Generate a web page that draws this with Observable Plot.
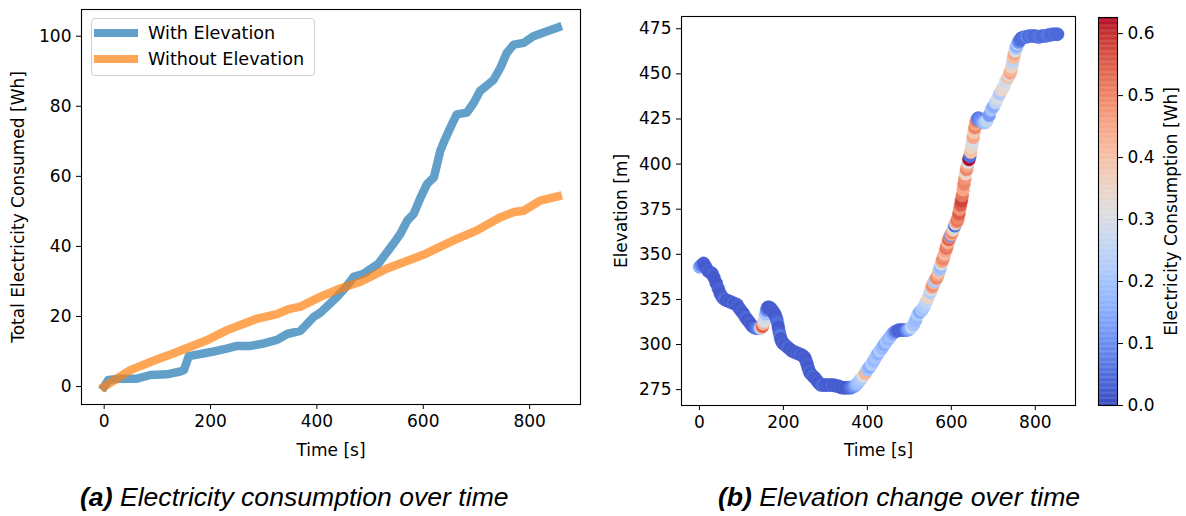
<!DOCTYPE html>
<html>
<head>
<meta charset="utf-8">
<script src="https://cdn.jsdelivr.net/npm/d3@7"></script>
<script src="https://cdn.jsdelivr.net/npm/@observablehq/plot@0.6"></script>
<style>
html, body { margin: 0; padding: 0; background: #fff; }
#root { position: relative; width: 1186px; height: 516px; overflow: hidden; font-family: "DejaVu Sans", sans-serif; color: #000; }
.panel { position: absolute; top: 0; }
.legend { position: absolute; left: 91px; top: 18px; width: 224px; height: 58px; border: 1px solid #d0d0d0; border-radius: 4px; background: rgba(255,255,255,0.8); box-sizing: border-box; }
.sw { position: absolute; left: 94px; width: 44px; height: 8.5px; }
.lt { position: absolute; left: 148px; font-size: 17.6px; line-height: 20px; white-space: nowrap; }
.cap { position: absolute; top: 482px; font-family: "Liberation Sans", Arial, sans-serif; font-style: italic; font-size: 26.6px; white-space: nowrap; }
.cap b { font-weight: bold; }
</style>
</head>
<body>
<div id="root"></div>
<script>
// ---------- Panel (a): cumulative electricity consumption ----------
const seriesNames = ["With Elevation", "Without Elevation"];
const withTime = [0,8,30,60,87,118,143,150,159,181,206,230,250,275,300,325,344,369,394,406,420,438,455,469,488,500,516,532,544,557,570,582,595,607,620,632,641,654,663,682,695,707,720,732,745,757,770,789,807,833,853];
const withWh   = [0,1.9,2.2,2.2,3.3,3.5,4.3,4.7,8.7,9.3,10,10.8,11.6,11.6,12.3,13.3,15,15.9,19.9,21,23,25.6,28.5,31.3,32.2,33.5,35.1,38.4,40.8,43.6,47.4,49.3,54,57.8,59.7,67.3,70.6,74.9,77.7,78.2,81,84.4,86,87.5,91,95.2,97.6,98.1,100,101.4,102.5];
const withoutTime = [0,49,100,131,143,194,231,260,288,325,347,369,406,444,482,532,600,657,700,745,770,789,820,853];
const withoutWh   = [0,4.7,7.8,9.5,10.2,13.3,16.1,17.8,19.4,20.7,22.1,22.8,25.6,28,29.9,33.7,37.6,41.7,44.5,48.3,49.8,50.2,53.1,54.3];
const seriesColors = ["#1f77b4", "#ff7f0e"];
const timeTicks = [0,200,400,600,800];
const whTicks = [0,20,40,60,80,100];

// ---------- Panel (b): elevation coloured by per-sample consumption ----------
const sampleTime = [
  0,5,10,15,20,25,30,35,40,45,50,55,60,65,70,75,80,85,90,95,100,105,110,115,120,125,130,135,140,145,
  148,150,152,154,156,158,160,162,164,166,168,170,172,174,176,178,180,182,184,186,188,190,192,194,196,198,200,
  205,210,215,220,225,230,235,240,245,250,
  253,256,259,262,265,
  270,275,280,285,290,295,
  300,305,310,315,320,325,330,335,340,345,
  350,355,360,365,370,375,380,385,390,395,
  400,405,410,415,420,425,430,435,440,445,
  450,455,460,465,470,475,480,485,490,495,
  500,505,510,515,520,525,530,535,540,545,550,
  552,554,556,558,560,562,564,566,568,570,572,574,576,578,580,582,584,586,588,590,
  592,594,596,598,600,602,604,606,608,610,612,614,616,618,620,622,624,626,628,630,
  632,634,636,638,640,642,644,646,648,650,652,654,656,658,660,662,664,666,
  670,675,680,685,690,695,700,705,710,715,720,725,730,735,
  738,740,742,744,746,748,750,752,754,756,758,760,762,764,766,768,770,
  775,780,785,790,795,800,805,810,815,820,825,830,835,840,845,850,853];
const elevation = [
  343,344,345,343,341,340,339.5,337,334,331,328,326,325,324.5,324,323.5,323,322.5,322,320,318.5,317,315,313.5,312,310.5,309.5,309,309,309,
  309.3,310,311.5,313,315,317,319,320.3,320.7,320.5,320.2,320,319.3,318.5,318,317.3,316.5,315.3,314,312,309.5,307,305,303,301.8,301,300.5,
  299.5,298.5,297.5,296.5,296,295.5,295,294.5,294,293,
  291.5,289.5,287,285,283.8,
  282.5,281.5,280,278.5,277.5,277.5,
  277.5,277.5,277.5,277.5,277.5,277,277,276.5,276,276,
  276,276,276,276.5,277,278,279.5,281,282.5,284,
  286,287.5,289,291,293,295,296.5,298,300,301.5,
  303,304.5,306,307,307.5,308,308,308,308,308,
  308.5,309.5,311,313.5,316.5,318,319,321,323.5,326,329,
  330.4,331.8,333,334,335,335.8,336.6,337.5,338.6,340,341.6,343.2,344.7,346.1,347.5,348.9,350.3,351.8,353.4,355,
  356.6,358.2,359.4,360.3,361,362.2,363.4,364.6,365.8,367,367.8,368.6,370,372.5,375,377.4,379.8,382.5,385.8,389,
  391.8,394.6,397,399,401,402.6,404.2,406.6,409.4,412,414.8,417.6,420.2,422.3,424,425,425.5,425.2,
  424,423,423,424,427,430,432,434,436.5,439,441,443,446,448,
  449.5,450.5,452,454,456.5,459,461,462.8,464.4,465.7,466.7,467.5,468.3,469,469.6,469.9,470,
  470.5,470.5,471,471,471,471,470.5,470.5,471,471,471,471.5,471.5,472,472,472,472];
const consumption = [
  0.15,0.08,0.03,0.02,0.03,0.02,0.03,0.02,0.02,0.03,0.02,0.03,0.05,0.02,0.03,0.02,0.04,0.02,0.03,0.02,0.03,0.02,0.04,0.02,0.03,0.02,0.03,0.05,0.08,0.2,
  0.35,0.55,0.42,0.3,0.28,0.2,0.1,0.05,0.03,0.02,0.03,0.02,0.03,0.02,0.04,0.02,0.03,0.02,0.03,0.05,0.02,0.03,0.06,0.02,0.03,0.02,0.03,
  0.02,0.04,0.02,0.03,0.02,0.03,0.02,0.04,0.02,0.03,
  0.02,0.03,0.02,0.04,0.02,
  0.04,0.02,0.03,0.02,0.03,0.05,
  0.02,0.03,0.02,0.04,0.02,0.03,0.02,0.03,0.02,0.03,
  0.02,0.03,0.05,0.08,0.12,0.18,0.2,0.22,0.3,0.42,
  0.2,0.15,0.22,0.18,0.2,0.16,0.22,0.18,0.15,0.2,
  0.17,0.19,0.15,0.1,0.05,0.03,0.04,0.03,0.05,0.1,
  0.15,0.25,0.2,0.18,0.22,0.15,0.2,0.22,0.25,0.35,0.22,
  0.3,0.45,0.5,0.42,0.2,0.25,0.48,0.5,0.45,0.4,0.2,0.18,0.3,0.45,0.5,0.48,0.4,0.45,0.52,0.5,
  0.42,0.55,0.5,0.1,0.45,0.5,0.38,0.3,0.05,0.32,0.45,0.52,0.5,0.55,0.48,0.55,0.58,0.52,0.45,0.5,
  0.48,0.35,0.5,0.45,0.3,0.626,0.05,0.4,0.35,0.3,0.45,0.38,0.5,0.45,0.52,0.1,0.05,0.08,
  0.1,0.15,0.2,0.25,0.12,0.2,0.15,0.25,0.3,0.22,0.35,0.32,0.28,0.4,
  0.3,0.45,0.42,0.35,0.25,0.4,0.45,0.3,0.2,0.15,0.25,0.12,0.08,0.05,0.06,0.04,0.05,
  0.05,0.08,0.04,0.06,0.05,0.04,0.05,0.06,0.05,0.04,0.05,0.06,0.05,0.04,0.05,0.05,0.04];
const elevTicks = [275,300,325,350,375,400,425,450,475];
const cbarTicks = [0,0.1,0.2,0.3,0.4,0.5,0.6];
const cbarMax = 0.626;

// matplotlib "coolwarm" colormap stops (Moreland)
const coolwarmStops = ["rgb(59,76,192)","rgb(68,90,204)","rgb(77,104,215)","rgb(87,117,225)","rgb(98,130,234)","rgb(108,142,241)","rgb(119,154,247)","rgb(130,165,251)","rgb(141,176,254)","rgb(152,185,255)","rgb(163,194,255)","rgb(174,201,253)","rgb(184,208,249)","rgb(194,213,244)","rgb(204,217,238)","rgb(213,219,230)","rgb(221,221,221)","rgb(229,216,209)","rgb(236,211,197)","rgb(241,204,185)","rgb(245,196,173)","rgb(247,187,160)","rgb(247,177,148)","rgb(247,166,135)","rgb(244,154,123)","rgb(241,141,111)","rgb(236,127,99)","rgb(229,112,88)","rgb(222,96,77)","rgb(213,80,66)","rgb(203,62,56)","rgb(192,40,47)","rgb(180,4,38)"];
const coolwarm = d3.piecewise(d3.interpolateRgb, coolwarmStops);

const font = {fontFamily: "'DejaVu Sans', sans-serif", fontSize: "17px", color: "#000", background: "transparent", overflow: "visible"};
const xDomain = [-42.65, 895.65];

const rowsA = [
  ...withTime.map((t, i) => ({t, v: withWh[i], s: seriesNames[0]})),
  ...withoutTime.map((t, i) => ({t, v: withoutWh[i], s: seriesNames[1]}))
];
const rowsB = sampleTime.map((t, i) => ({t, e: elevation[i], c: consumption[i]}));
const colorCW = {type: "linear", domain: [0, cbarMax], interpolate: coolwarm};

const root = document.getElementById("root");
function place(el, left) { el.classList.add("panel"); el.style.left = left + "px"; root.appendChild(el); }

const chartA = Plot.plot({
  width: 600, height: 470,
  marginLeft: 81, marginRight: 20, marginTop: 9, marginBottom: 66,
  style: font,
  x: {domain: xDomain, ticks: timeTicks, tickSize: 5, tickPadding: 5, label: "Time [s]", labelAnchor: "center", labelOffset: 51, labelArrow: "none"},
  y: {domain: [-5.125, 107.625], ticks: whTicks, tickSize: 5, tickPadding: 5, label: "Total Electricity Consumed [Wh]", labelAnchor: "center", labelOffset: 70, labelArrow: "none"},
  color: {domain: seriesNames, range: seriesColors},
  marks: [
    Plot.line(rowsA, {x: "t", y: "v", z: "s", stroke: "s", strokeWidth: 8.5, strokeOpacity: 0.7, strokeLinecap: "square", strokeLinejoin: "round"}),
    Plot.frame({stroke: "#000", strokeWidth: 1.1})
  ]
});
place(chartA, 0);

const chartB = Plot.plot({
  width: 495, height: 470,
  marginLeft: 81, marginRight: 20, marginTop: 16, marginBottom: 65,
  style: font,
  x: {domain: xDomain, ticks: timeTicks, tickSize: 5, tickPadding: 5, label: "Time [s]", labelAnchor: "center", labelOffset: 50, labelArrow: "none"},
  y: {domain: [266.2, 481.8], ticks: elevTicks, tickSize: 5, tickPadding: 5, label: "Elevation [m]", labelAnchor: "center", labelOffset: 67, labelArrow: "none"},
  color: colorCW,
  marks: [
    Plot.dot(rowsB, {x: "t", y: "e", fill: "c", r: 6.5, stroke: "c", strokeWidth: 0.4}),
    Plot.frame({stroke: "#000", strokeWidth: 1.1})
  ]
});
place(chartB, 600);

const ramp = d3.range(0, cbarMax, 0.002);
const chartC = Plot.plot({
  width: 96, height: 470,
  marginLeft: 8, marginRight: 69, marginTop: 17, marginBottom: 65,
  style: font,
  x: {axis: null, domain: [0, 1]},
  y: {domain: [0, cbarMax], axis: "right", ticks: cbarTicks, tickFormat: ".1f", tickSize: 5, tickPadding: 5, label: "Electricity Consumption [Wh]", labelAnchor: "center", labelOffset: 59, labelArrow: "none"},
  color: colorCW,
  marks: [
    Plot.rect(ramp, {x1: 0, x2: 1, y1: d => d, y2: d => Math.min(cbarMax, d + 0.0025), fill: d => d}),
    Plot.frame({stroke: "#000", strokeWidth: 1.1})
  ]
});
place(chartC, 1090);

// legend for panel (a)
const lg = document.createElement("div"); lg.className = "legend"; root.appendChild(lg);
seriesNames.forEach((name, i) => {
  const y = 33 + i * 26;
  const sw = document.createElement("div"); sw.className = "sw";
  sw.style.top = (y - 4.25) + "px"; sw.style.background = seriesColors[i]; sw.style.opacity = 0.7;
  root.appendChild(sw);
  const lt = document.createElement("div"); lt.className = "lt";
  lt.style.top = (y - 10) + "px"; lt.textContent = name;
  root.appendChild(lt);
});

// captions
const capA = document.createElement("div"); capA.className = "cap"; capA.style.left = "80px";
capA.innerHTML = "<b>(a)</b> Electricity consumption over time"; root.appendChild(capA);
const capB = document.createElement("div"); capB.className = "cap"; capB.style.left = "718px";
capB.innerHTML = "<b>(b)</b> Elevation change over time"; root.appendChild(capB);
</script>
</body>
</html>
